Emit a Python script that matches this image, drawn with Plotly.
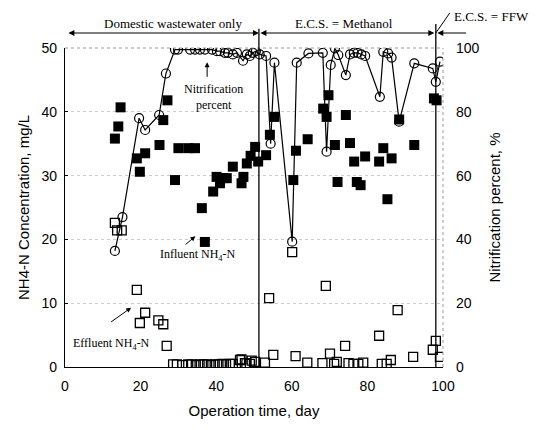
import plotly.graph_objects as go

# ---------------- data ----------------
nit_day = [13.2, 15.2, 19.6, 21.2, 24.9, 26.7, 29.1, 29.9, 33.1, 34.4, 35.7, 37.0,
           38.9, 40.2, 41.0, 42.3, 43.1, 44.4, 45.5, 47.1, 48.1, 48.9, 49.7, 50.5,
           51.5, 53.2, 54.4, 55.4, 60.1, 61.3, 64.4, 68.2, 69.2, 70.3, 71.4, 72.3,
           74.3, 75.4, 76.4, 77.4, 78.4, 79.4, 83.3, 84.2, 85.5, 86.4, 88.4, 92.4,
           97.3, 98.1, 99.2]
nit_pct = [36.4, 47.0, 78.0, 74.3, 79.0, 92.0, 99.5, 99.5, 99.5, 99.5, 99.5, 99.5,
           99.5, 99.0, 99.0, 98.5, 98.5, 98.0, 98.5, 96.0, 98.0, 97.5, 98.5, 99.0,
           98.0, 97.5, 70.0, 95.4, 39.3, 95.4, 98.3, 98.5, 67.5, 94.7, 99.9, 97.8,
           91.5, 98.0, 98.5, 98.5, 98.0, 97.5, 84.7, 98.8, 98.3, 97.0, 76.9, 95.2,
           93.6, 89.4, 95.7]

inf_day = [13.2, 14.1, 14.7, 19.0, 19.8, 21.2, 25.0, 26.0, 27.1, 29.1, 30.0, 32.6,
           34.4, 36.2, 37.0, 39.2, 40.1, 41.0, 41.9, 42.8, 44.4, 46.7, 47.2, 48.1,
           49.1, 50.3, 51.1, 53.2, 54.2, 55.4, 60.4, 61.1, 64.2, 68.3, 69.2, 69.7,
           71.4, 72.1, 74.3, 75.4, 76.5, 77.2, 78.2, 79.4, 83.1, 84.2, 85.3, 86.4,
           88.4, 92.4, 97.6, 98.3]
inf_val = [35.8, 37.7, 40.7, 32.7, 30.6, 33.5, 34.8, 38.7, 41.8, 29.3, 34.3, 34.3,
           34.3, 24.9, 19.6, 27.5, 29.8, 28.8, 29.6, 29.6, 31.4, 28.8, 29.8, 31.9,
           33.1, 34.5, 32.2, 33.2, 36.4, 39.2, 29.3, 33.9, 35.7, 40.5, 39.2, 42.6,
           34.8, 29.0, 39.5, 35.1, 32.2, 29.0, 28.5, 33.0, 32.2, 34.3, 26.3, 32.7,
           38.8, 34.8, 42.1, 41.8]

eff_day = [13.2, 13.8, 15.0, 19.0, 19.8, 21.2, 24.7, 26.0, 26.9, 28.6, 29.6, 31.0,
           32.6, 33.6, 34.6, 35.6, 36.6, 37.6, 38.6, 39.6, 40.6, 41.6, 42.6, 43.6,
           44.4, 46.3, 46.7, 47.6, 48.0, 48.9, 49.4, 50.3, 52.9, 54.0, 55.1, 60.1,
           61.0, 64.1, 68.1, 69.0, 70.1, 71.2, 71.9, 74.1, 75.0, 76.3, 77.6, 78.9,
           83.1, 83.8, 85.1, 86.2, 88.0, 92.1, 97.3, 98.1, 99.2]
eff_val = [22.6, 21.4, 21.4, 12.1, 6.9, 8.5, 7.3, 6.7, 3.3, 0.4, 0.4, 0.3,
           0.4, 0.4, 0.3, 0.4, 0.4, 0.4, 0.3, 0.4, 0.4, 0.5, 0.4, 0.5,
           0.5, 1.1, 1.2, 0.6, 0.6, 0.5, 1.0, 0.8, 0.7, 10.8, 1.9, 18.0,
           1.7, 0.7, 0.6, 12.7, 2.1, 0.5, 0.8, 3.3, 0.6, 0.5, 0.5, 0.7,
           4.9, 0.5, 0.5, 1.1, 8.9, 1.6, 2.7, 4.1, 1.6]

x_ticks = [0, 20, 40, 60, 80, 100]
y_ticks = [0, 10, 20, 30, 40, 50]
y2_ticks = [0, 20, 40, 60, 80, 100]
x_range = [0, 100]

phase_bounds = [0, 51.3, 98.1]
phase_labels = ["Domestic wastewater only", "E.C.S. = Methanol", "E.C.S. = FFW"]

SANS = "Liberation Sans, Arial, sans-serif"
SERIF = "Liberation Serif, Times New Roman, serif"


def xp(day):
    """day -> fraction of the plot-area width"""
    return (day - x_range[0]) / (x_range[1] - x_range[0])


fig = go.Figure()

fig.add_trace(go.Scatter(
    x=inf_day, y=inf_val, mode="markers", name="Influent NH4-N",
    marker=dict(symbol="square", size=10, color="black"),
))
fig.add_trace(go.Scatter(
    x=eff_day, y=eff_val, mode="markers", name="Effluent NH4-N",
    marker=dict(symbol="square-open", size=9, color="black", line=dict(width=1.3)),
))
fig.add_trace(go.Scatter(
    x=nit_day, y=nit_pct, mode="lines+markers", name="Nitrification percent",
    yaxis="y2",
    line=dict(color="black", width=1.2),
    marker=dict(symbol="circle-open", size=9, color="black", line=dict(width=1.2)),
))

fig.update_layout(
    width=537, height=430,
    margin=dict(l=65, r=94, t=48, b=63, autoexpand=False),
    paper_bgcolor="white", plot_bgcolor="white",
    showlegend=False,
    font=dict(family=SANS, size=14, color="black"),
    xaxis=dict(
        range=x_range, tickvals=x_ticks, showgrid=False, zeroline=False,
        showline=True, linecolor="black", linewidth=1.2, automargin=False,
        ticks="", ticklabelstandoff=6,
        title=dict(text="Operation time, day", font=dict(size=15), standoff=12),
    ),
    yaxis=dict(
        range=[0, 50], tickvals=y_ticks, zeroline=False, automargin=False,
        showgrid=True, gridcolor="#cccccc", griddash="dot", gridwidth=1,
        showline=True, linecolor="black", linewidth=1.2,
        ticks="inside", ticklen=3, tickcolor="black", ticklabelstandoff=4,
        title=dict(text="NH4-N Concentration, mg/L", font=dict(size=15), standoff=8),
    ),
    yaxis2=dict(
        range=[0, 100], tickvals=y2_ticks, overlaying="y", side="right",
        showgrid=False, zeroline=False, showline=False, automargin=False,
        ticks="", ticklabelstandoff=12,
        title=dict(text="Nitrification percent, %", font=dict(size=15), standoff=10),
    ),
)

# dotted top and right frame
fig.add_shape(type="line", xref="paper", yref="paper", x0=0, x1=1, y0=1, y1=1,
              line=dict(color="#999999", width=1, dash="dot"))
fig.add_shape(type="line", xref="paper", yref="paper", x0=1, x1=1, y0=0, y1=1,
              line=dict(color="#999999", width=1, dash="dot"))

# phase separators
for b, top in zip(phase_bounds[1:], [1.06, 1.075]):
    fig.add_shape(type="line", xref="paper", yref="paper", x0=xp(b), x1=xp(b), y0=0, y1=top,
                  line=dict(color="black", width=1.3))

arrow_y = 1.047
XD, YD = "x domain", "y domain"
# double-headed phase arrows
for (a, b) in [(phase_bounds[0] + 0.5, phase_bounds[1]), (phase_bounds[1], phase_bounds[2] - 0.4)]:
    fig.add_annotation(x=xp(b), y=arrow_y, ax=xp(a), ay=arrow_y, xref=XD, yref=YD,
                       axref=XD, ayref=YD, text="", showarrow=True,
                       arrowhead=2, startarrowhead=2, arrowside="end+start",
                       arrowsize=1.2, arrowwidth=1, arrowcolor="black")
# FFW arrow pointing left
fig.add_annotation(x=xp(phase_bounds[2] + 0.4), y=arrow_y, ax=xp(106.5), ay=arrow_y,
                   xref=XD, yref=YD, axref=XD, ayref=YD, text="",
                   showarrow=True, arrowhead=2, arrowsize=1.2, arrowwidth=1, arrowcolor="black")
# slash to FFW label
fig.add_shape(type="line", xref="paper", yref="paper", x0=xp(phase_bounds[2]), x1=xp(101.8),
              y0=arrow_y, y1=1.11, line=dict(color="black", width=1))

fig.add_annotation(x=xp((phase_bounds[0] + phase_bounds[1]) / 2 + 3), y=arrow_y,
                   xref="paper", yref="paper", xanchor="center",
                   text=phase_labels[0], showarrow=False, yanchor="bottom",
                   font=dict(family=SERIF, size=13))
fig.add_annotation(x=xp((phase_bounds[1] + phase_bounds[2]) / 2 - 1), y=arrow_y,
                   xref="paper", yref="paper", xanchor="center",
                   text=phase_labels[1], showarrow=False, yanchor="bottom",
                   font=dict(family=SERIF, size=13))
fig.add_annotation(x=xp(102.3), y=1.07, xref="paper", yref="paper",
                   text=phase_labels[2], showarrow=False, xanchor="left", yanchor="bottom",
                   font=dict(family=SERIF, size=13))

# in-plot labels
fig.add_annotation(x=37.6, y=95.5, ax=37.6, ay=90.5, xref="x", yref="y2", axref="x", ayref="y2",
                   text="", showarrow=True, arrowhead=2, arrowsize=1, arrowwidth=1, arrowcolor="black")
fig.add_annotation(x=39.2, y=90.0, xref="x", yref="y2", text="Nitrification<br>percent",
                   showarrow=False, yanchor="top", font=dict(family=SERIF, size=12))
fig.add_annotation(x=34.5, y=20.5, ax=31.5, ay=19.0, xref="x", yref="y", axref="x", ayref="y",
                   text="", showarrow=True, arrowhead=2, arrowsize=1, arrowwidth=1, arrowcolor="black")
fig.add_annotation(x=35.2, y=17.5, xref="x", yref="y", text="Influent NH<sub>4</sub>-N",
                   showarrow=False, font=dict(family=SERIF, size=12))
fig.add_annotation(x=17.5, y=9.3, ax=11.8, ay=6.9, xref="x", yref="y", axref="x", ayref="y",
                   text="", showarrow=True, arrowhead=2, arrowsize=1, arrowwidth=1, arrowcolor="black")
fig.add_annotation(x=12.2, y=3.6, xref="x", yref="y", text="Effluent NH<sub>4</sub>-N",
                   showarrow=False, font=dict(family=SERIF, size=12))

fig.write_html("out.html", config={"displayModeBar": False},
               post_script="document.body.style.margin='0';document.body.style.overflow='hidden';")
